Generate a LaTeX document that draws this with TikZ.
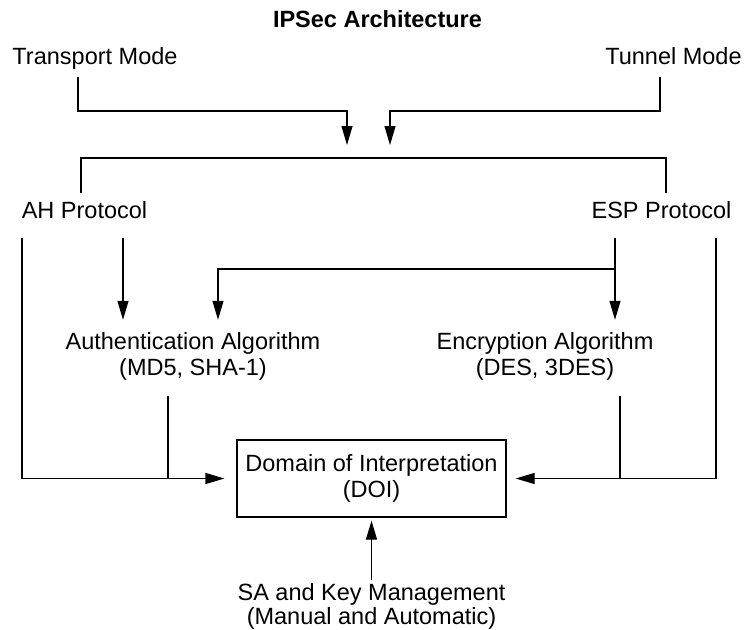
\documentclass[tikz,border=0pt]{standalone}
\usepackage{fontspec}
\setmainfont{Liberation Sans}
\usetikzlibrary{arrows.meta}
\tikzset{
  txt/.style={font=\fontsize{23.5pt}{26pt}\selectfont},
  lbl/.style={txt, inner sep=0pt, anchor=base, align=center},
  doibox/.style={txt, draw, line width=1.2pt, minimum width=269pt, minimum height=77pt,
    inner sep=0pt, align=center},
  wire/.style={line width=1.2pt},
  arr/.style={wire, -{Triangle[length=19pt,width=11pt]}}
}
\begin{document}
\begin{tikzpicture}[x=1pt,y=-1pt]
\useasboundingbox (0,0) rectangle (748,630);

% labels (two-line labels sit on the baseline of their last line)
\node[lbl, font=\fontsize{23.5pt}{26pt}\selectfont\bfseries] (title) at (377.5,27) {IPSec Architecture};
\node[lbl] (transport) at (95,64) {Transport Mode};
\node[lbl] (tunnel) at (673.5,64) {Tunnel Mode};
\node[lbl] (ah) at (84.5,218) {AH Protocol};
\node[lbl] (esp) at (661.5,218) {ESP Protocol};
\node[lbl] (auth) at (193,375) {Authentication Algorithm\\(MD5, SHA-1)};
\node[lbl] (enc) at (545,375) {Encryption Algorithm\\(DES, 3DES)};
\node[doibox] (doi) at (371.5,478.5) {Domain of Interpretation\\(DOI)};
\node[lbl, font=\fontsize{23.5pt}{24pt}\selectfont] (sa) at (371.5,624) {SA and Key Management\\(Manual and Automatic)};

% wire end points
\coordinate (tm-out) at (78,77);
\coordinate (tm-bend) at (347,111);
\coordinate (tm-tip) at (347,145);
\coordinate (tn-out) at (660,77);
\coordinate (tn-bend) at (390,111);
\coordinate (tn-tip) at (390,145);
\coordinate (br-l) at (81,193);
\coordinate (br-top) at (666,158);
\coordinate (br-r) at (666,193);
\coordinate (ah-outer) at (22,238);
\coordinate (ah-inner) at (123,238);
\coordinate (esp-inner) at (615,238);
\coordinate (esp-outer) at (716,238);
\coordinate (esp-split) at (615,269);
\coordinate (auth-out) at (168,396);
\coordinate (enc-out) at (620,396);

% modes
\draw[arr] (tm-out) |- (tm-bend) -- (tm-tip);
\draw[arr] (tn-out) |- (tn-bend) -- (tn-tip);
\draw[wire] (br-l) |- (br-top) -- (br-r);

% protocols to algorithms
\draw[arr, shorten >=12pt] (ah-inner) -- (ah-inner |- auth.north);
\draw[arr, shorten >=12pt] (esp-inner) -- (esp-inner |- enc.north);
\draw[arr, shorten >=12pt] (esp-split) -| (auth.north -| 218,0);

% into the DOI
\draw[arr, shorten >=12pt] (ah-outer) |- (doi.west);
\draw[arr, shorten >=9pt] (esp-outer) |- (doi.east);
\draw[wire] (auth-out) -- (auth-out |- doi.west);
\draw[wire] (enc-out) -- (enc-out |- doi.east);
\draw[arr, shorten <=3pt, shorten >=3pt] (sa.north) -- (doi.south);
\end{tikzpicture}
\end{document}
